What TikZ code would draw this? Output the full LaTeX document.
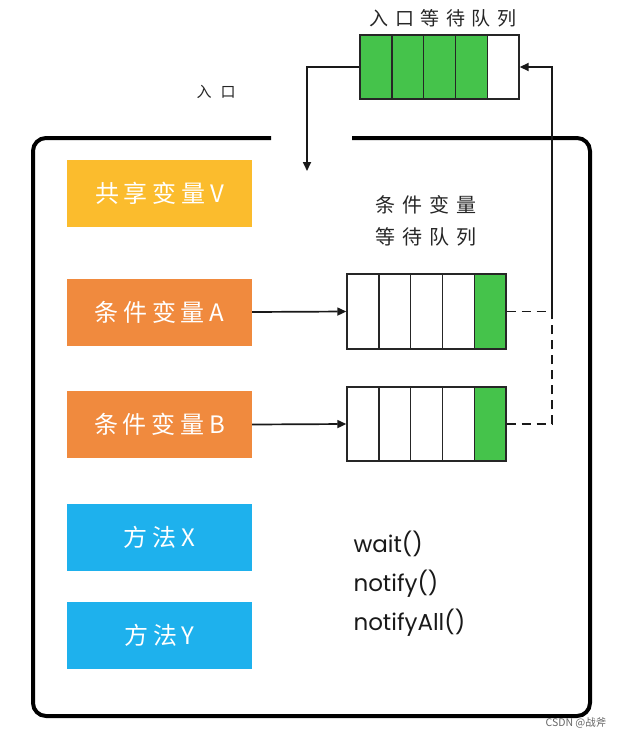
\documentclass[tikz,border=0pt]{standalone}
\usepackage{fontspec}
\usetikzlibrary{arrows.meta}
\newfontfamily\cjk{Noto Sans CJK SC}
\newfontfamily\cjkwide[LetterSpace=35]{Noto Sans CJK SC}
\newfontfamily\cjkwider[LetterSpace=60]{Noto Sans CJK SC}
\newfontfamily\cjkbox[LetterSpace=20]{Noto Sans CJK SC}
\newfontfamily\latinfont{Poppins}
\definecolor{cyellow}{HTML}{FBBC2D}
\definecolor{corange}{HTML}{F08A3E}
\definecolor{cblue}{HTML}{1EB1ED}
\definecolor{cgreen}{HTML}{45C34B}
\tikzset{
  membox/.style={draw=none, minimum width=185pt, minimum height=67pt, inner sep=0pt,
    text=white, font=\cjkbox\fontsize{24}{28}\selectfont},
  cellbox/.style={draw=black!85, line width=1.4pt, minimum width=31.8pt, inner sep=0pt, fill=white},
  greencell/.style={cellbox, fill=cgreen},
  conn/.style={line width=1.7pt, draw=black!90},
  arr/.style={conn, -{Triangle[length=9pt,width=8pt]}},
  dashconn/.style={conn, dash pattern=on 9pt off 6pt},
}
\begin{document}
\begin{tikzpicture}[x=1pt,y=-1pt]
\useasboundingbox (0,0) rectangle (624,739);
% outer monitor border
\draw[line width=4pt, rounded corners=13pt] (271,138) -- (33,138) -- (33,716) -- (590,716) -- (590,138) -- (352,138);
% left boxes
\node[membox, fill=cyellow] (v) at (159.5,193.5) {共享变量V};
\node[membox, fill=corange] (a) at (159.5,312) {条件变量A};
\node[membox, fill=corange] (b) at (159.5,424.5) {条件变量B};
\node[membox, fill=cblue] (x) at (159.5,537.5) {方法X};
\node[membox, fill=cblue] (y) at (159.5,635.5) {方法Y};
% entry queue
\foreach \i/\cx/\st in {1/375.9/greencell,2/407.7/greencell,3/439.5/greencell,4/471.3/greencell,5/503.1/cellbox}
  \node[\st, minimum height=64pt] (e\i) at (\cx,67) {};
\node[font=\cjkwide\fontsize{19}{22}\selectfont, text=black!85] (etitle) at (443,18) {入口等待队列};
\node[font=\cjkwider\fontsize{15}{18}\selectfont, text=black!85] (entrylbl) at (216,92) {入口};
% condition queues
\foreach \i/\cx/\st in {1/362.9/cellbox,2/394.7/cellbox,3/426.5/cellbox,4/458.3/cellbox,5/490.1/greencell}{
  \node[\st, minimum height=75pt] (qa\i) at (\cx,311.5) {};
  \node[\st, minimum height=74pt] (qb\i) at (\cx,424) {};
}
\node[font=\cjkwide\fontsize{20}{32}\selectfont, text=black!85, align=center] (cqtitle) at (426,221) {条件变量\\等待队列};
% arrows from condition variables to queues
\draw[arr] (a.east) -- (qa1.west);
\draw[arr] (b.east) -- (qb1.west);
% entry arrow into monitor
\coordinate (entry) at (307,171);
\draw[arr] (e1.west) -| (entry);
% return path from condition queues to entry queue
\coordinate (rt) at (552,67);
\draw[dashconn] (qa5.east) -- (qa5.east -| rt);
\draw[dashconn] (qb5.east) -- (qb5.east -| rt) -- (qa5.east -| rt);
\draw[arr] (qa5.east -| rt) -- (rt) -- (e5.east);
% methods
\node[font=\latinfont\fontsize{23}{39}\selectfont, text=black!90, align=left, anchor=west] (methods) at (350,584) {wait()\\notify()\\notifyAll()};
% watermark
\node[font=\cjk\fontsize{10.5}{12}\selectfont, text=black!60] (wm) at (576,723) {CSDN @战斧};
\end{tikzpicture}
\end{document}
